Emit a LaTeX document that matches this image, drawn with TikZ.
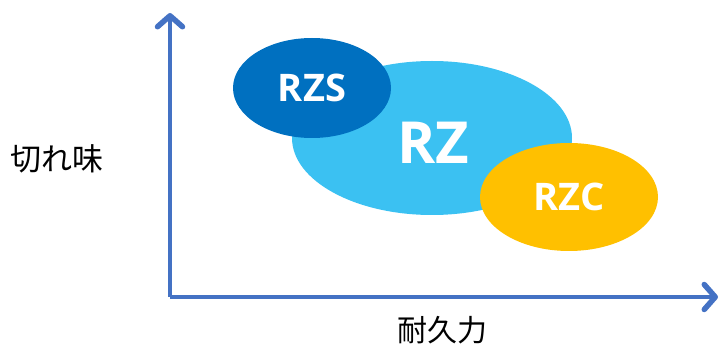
\documentclass[tikz,border=0pt]{standalone}
\usepackage{fontspec}
\setmainfont{Open Sans}
\newfontfamily\jpfont{Noto Sans CJK JP}
\usetikzlibrary{arrows.meta, shapes.geometric}
\definecolor{axisblue}{HTML}{4472C4}
\definecolor{rzblue}{HTML}{3BC1F2}
\definecolor{rzsblue}{HTML}{0070C0}
\definecolor{rzcgold}{HTML}{FFC000}

\begin{document}
\begin{tikzpicture}[x=1pt, y=-1pt,
    blob/.style={ellipse, inner sep=0pt, text=white, font=\bfseries},
    axis/.style={line width=4.5pt, axisblue, -{Straight Barb[length=11pt, width=25pt, line width=5.5pt, round]}}]
  \useasboundingbox (0,0) rectangle (725,347);
  % grades as ellipses
  \node[blob, fill=rzblue, minimum width=280pt, minimum height=154pt] (rz) at (432,138) {};
  \node[font=\fontsize{58}{62}\bfseries, text=white] (rzlbl) at (433,143) {RZ};
  \node[blob, fill=rzsblue, minimum width=158pt, minimum height=100pt,
        font=\fontsize{38}{42}\bfseries] (rzs) at (312,88) {RZS};
  \node[blob, fill=rzcgold, minimum width=178pt, minimum height=108pt,
        font=\fontsize{38}{42}\bfseries] (rzc) at (569,197) {RZC};
  % axes
  \coordinate (origin) at (170,297);
  \coordinate (ytop) at (170,13);
  \coordinate (xend) at (718,297);
  \draw[axis] (origin) -- (ytop);
  \draw[axis] (origin) -- (xend);
  % labels
  \node[font=\jpfont\fontsize{31}{34}\selectfont] (sharp) at (57,159) {切れ味};
  \node[font=\jpfont\fontsize{30}{33}\selectfont] (durab) at (442,330) {耐久力};
\end{tikzpicture}
\end{document}
